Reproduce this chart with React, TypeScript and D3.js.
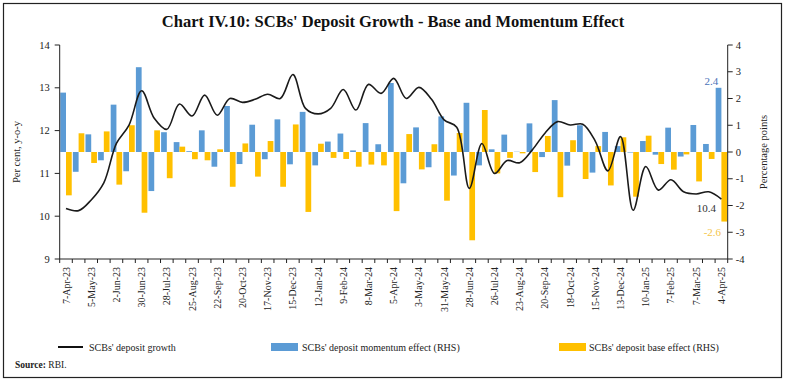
import React from "react";
import * as d3 from "d3";

// fortnightly reporting dates
const dates = [
  "7-Apr-23", "21-Apr-23", "5-May-23", "19-May-23", "2-Jun-23", "16-Jun-23", "30-Jun-23", "14-Jul-23",
  "28-Jul-23", "11-Aug-23", "25-Aug-23", "8-Sep-23", "22-Sep-23", "6-Oct-23", "20-Oct-23", "3-Nov-23",
  "17-Nov-23", "1-Dec-23", "15-Dec-23", "29-Dec-23", "12-Jan-24", "26-Jan-24", "9-Feb-24", "23-Feb-24",
  "8-Mar-24", "22-Mar-24", "5-Apr-24", "19-Apr-24", "3-May-24", "17-May-24", "31-May-24", "14-Jun-24",
  "28-Jun-24", "12-Jul-24", "26-Jul-24", "9-Aug-24", "23-Aug-24", "6-Sep-24", "20-Sep-24", "4-Oct-24",
  "18-Oct-24", "1-Nov-24", "15-Nov-24", "29-Nov-24", "13-Dec-24", "27-Dec-24", "10-Jan-25", "24-Jan-25",
  "7-Feb-25", "21-Feb-25", "7-Mar-25", "21-Mar-25", "4-Apr-25",
];

// SCBs' deposit growth (per cent, y-o-y) - left axis
const growth = [
  10.18, 10.13, 10.38, 10.78, 11.7, 12.13, 12.93, 12.29, 12.03, 12.62, 12.34, 12.83, 12.36, 12.75,
  12.66, 12.73, 12.85, 12.75, 13.31, 12.52, 12.39, 12.52, 12.96, 12.48, 13.08, 12.87, 13.22, 12.75,
  13.01, 12.73, 12.25, 12.08, 10.65, 11.7, 11.0, 11.3, 11.25, 11.55, 11.94, 12.21, 12.13, 12.15,
  11.75, 11.06, 11.86, 10.14, 11.16, 10.61, 10.85, 10.57, 10.52, 10.57, 10.4,
];

// momentum effect (percentage points) - right axis
const momentum = [
  2.22, -0.74, 0.66, -0.31, 1.77, -0.72, 3.17, -1.46, 0.74, 0.37, 0.03, 0.81, -0.55, 1.72,
  -0.45, 1.02, -0.27, 1.22, -0.46, 1.5, -0.5, 0.39, 0.69, 0.06, 1.08, 0.29, 2.58, -1.17,
  0.92, -0.57, 1.33, -0.88, 1.84, -0.5, 0.1, 0.65, 0.01, 1.07, -0.19, 1.94, -0.51, 1.0,
  -0.77, 0.75, 0.22, -0.02, 0.41, -0.1, 0.91, -0.17, 1.01, 0.3, 2.4,
];

// base effect (percentage points) - right axis
const base = [
  -1.62, 0.7, -0.41, 0.77, -1.22, 1.0, -2.27, 0.81, -0.98, 0.2, -0.27, -0.31, 0.1, -1.3,
  0.32, -0.92, 0.41, -1.3, 1.03, -2.24, 0.31, -0.22, -0.26, -0.55, -0.47, -0.5, -2.21, 0.67,
  -0.65, 0.29, -1.82, 0.71, -3.3, 1.57, -0.8, -0.22, -0.05, -0.75, 0.6, -1.69, 0.44, -1.01,
  0.22, -1.25, 0.55, -1.67, 0.61, -0.45, -0.66, -0.09, -1.1, -0.26, -2.6,
];

const leftTicks = [9, 10, 11, 12, 13, 14];
const rightTicks = [-4, -3, -2, -1, 0, 1, 2, 3, 4];

const BLUE = "#5B9BD5";
const YELLOW = "#FFC000";
const FONT = "'Liberation Serif', 'DejaVu Serif', serif";

export default function App() {
  const W = 786;
  const H = 384;
  const left = 59.7;
  const right = 727.7;
  const top = 45;
  const bottom = 259;

  const x = d3.scaleBand<number>().domain(d3.range(dates.length)).range([left, right]).padding(0);
  const sub = d3.scaleBand<string>().domain(["m", "b"]).range([0, x.bandwidth()]).paddingOuter(0.1).paddingInner(0);
  const yL = d3.scaleLinear().domain([9, 14]).range([bottom, top]);
  const yR = d3.scaleLinear().domain([-4, 4]).range([bottom, top]);
  const cx = (i: number) => (x(i) as number) + x.bandwidth() / 2;

  const line = d3
    .line<number>()
    .x((_, i) => cx(i))
    .y((d) => yL(d))
    .curve(d3.curveCatmullRom.alpha(0.5));

  const last = dates.length - 1;
  const boundaries = d3.range(dates.length + 1).map((i) => left + i * x.step());

  return (
    <div style={{ position: "absolute", left: 0, top: 0 }}>
      <svg width={W} height={H} style={{ display: "block", background: "#fff" }} fontFamily={FONT}>
        <rect x={3.5} y={3.5} width={778} height={374} fill="none" stroke="#222" strokeWidth={1.2} />
        <text x={W / 2} y={27} textAnchor="middle" fontSize={16.5} fontWeight="bold" fill="#111">
          Chart IV.10: SCBs' Deposit Growth - Base and Momentum Effect
        </text>

        {/* bars */}
        {momentum.map((v, i) => (
          <rect
            key={"m" + i}
            x={(x(i) as number) + (sub("m") as number)}
            y={yR(Math.max(0, v))}
            width={sub.bandwidth()}
            height={Math.abs(yR(v) - yR(0))}
            fill={BLUE}
          />
        ))}
        {base.map((v, i) => (
          <rect
            key={"b" + i}
            x={(x(i) as number) + (sub("b") as number)}
            y={yR(Math.max(0, v))}
            width={sub.bandwidth()}
            height={Math.abs(yR(v) - yR(0))}
            fill={YELLOW}
          />
        ))}

        {/* line */}
        <path d={line(growth) || ""} fill="none" stroke="#1a1a1a" strokeWidth={1.6} />

        {/* data labels */}
        <text x={cx(last) - 10} y={yR(momentum[last]) - 3} textAnchor="middle" fontSize={11} fill="#4a72b8">
          {momentum[last].toFixed(1)}
        </text>
        <text x={cx(last) - 15} y={yL(growth[last]) + 13} textAnchor="middle" fontSize={11} fill="#333">
          {growth[last].toFixed(1)}
        </text>
        <text x={cx(last) - 9} y={yR(base[last]) + 14.5} textAnchor="middle" fontSize={11} fill="#f5c54a">
          {base[last].toFixed(1)}
        </text>

        {/* left axis */}
        <line x1={left} x2={left} y1={top} y2={bottom} stroke="#222" />
        {leftTicks.map((t) => (
          <g key={"l" + t}>
            <line x1={left - 5} x2={left} y1={yL(t)} y2={yL(t)} stroke="#222" />
            <text x={left - 10} y={yL(t) + 3.5} textAnchor="end" fontSize={10.5} fill="#222">
              {t}
            </text>
          </g>
        ))}
        <text transform={`translate(20,${(top + bottom) / 2}) rotate(-90)`} textAnchor="middle" fontSize={10.5} fill="#222">
          Per cent, y-o-y
        </text>

        {/* right axis */}
        <line x1={right} x2={right} y1={top} y2={bottom} stroke="#222" />
        {rightTicks.map((t) => (
          <g key={"r" + t}>
            <line x1={right} x2={right + 5} y1={yR(t)} y2={yR(t)} stroke="#222" />
            <text x={right + 8} y={yR(t) + 3.5} textAnchor="start" fontSize={10.5} fill="#222">
              {t}
            </text>
          </g>
        ))}
        <text transform={`translate(767,${(top + bottom) / 2}) rotate(-90)`} textAnchor="middle" fontSize={10.5} fill="#222">
          Percentage points
        </text>

        {/* x axis */}
        <line x1={left} x2={right} y1={bottom} y2={bottom} stroke="#222" />
        {boundaries.map((bx, i) => (
          <line key={"t" + i} x1={bx} x2={bx} y1={bottom} y2={bottom + 4} stroke="#222" />
        ))}
        {dates.map((d, i) =>
          i % 2 === 0 ? (
            <text
              key={"x" + i}
              transform={`translate(${cx(i) + 3.5},${bottom + 8}) rotate(-90)`}
              textAnchor="end"
              fontSize={10}
              fill="#222"
            >
              {d}
            </text>
          ) : null
        )}

        {/* legend */}
        <line x1={58} x2={83} y1={347} y2={347} stroke="#111" strokeWidth={2} />
        <text x={89} y={351} fontSize={10} fill="#222">SCBs' deposit growth</text>
        <rect x={271} y={343} width={27} height={8} fill={BLUE} />
        <text x={302} y={351} fontSize={10} fill="#222">SCBs' deposit momentum effect (RHS)</text>
        <rect x={559} y={343} width={27} height={8} fill={YELLOW} />
        <text x={589} y={351} fontSize={10} fill="#222">SCBs' deposit base effect (RHS)</text>

        <text x={15} y={368} fontSize={9.5} fill="#222">
          <tspan fontWeight="bold">Source:</tspan> RBI.
        </text>
      </svg>
    </div>
  );
}
